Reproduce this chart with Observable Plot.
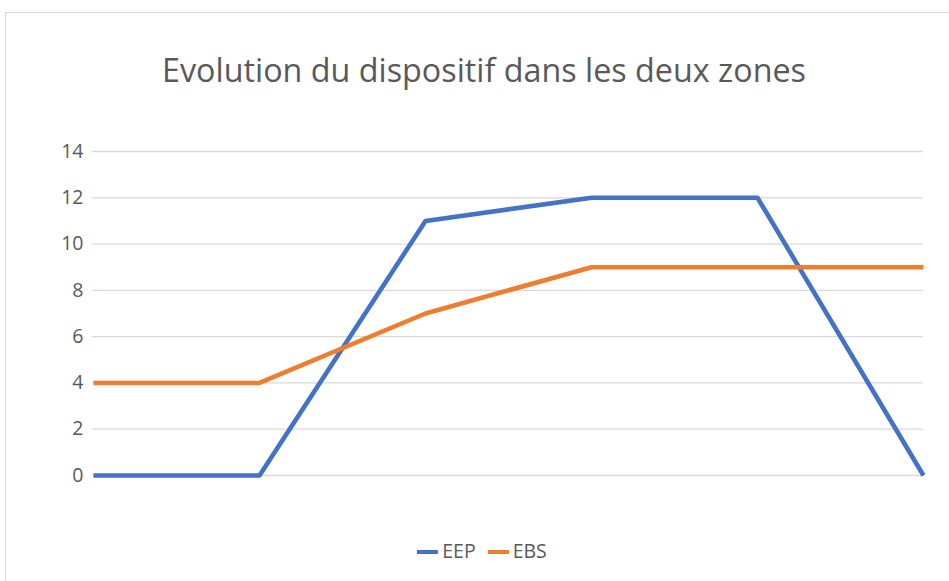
<!DOCTYPE html>
<html>
<head>
<meta charset="utf-8">
<script src="https://cdn.jsdelivr.net/npm/d3@7"></script>
<script src="https://cdn.jsdelivr.net/npm/@observablehq/plot@0.6"></script>
<style>
  html, body { margin: 0; padding: 0; background: #fff; }
  #wrap { position: relative; width: 949px; height: 581px; overflow: hidden; font-family: "Open Sans", sans-serif; }
  #frame { position: absolute; left: 5px; top: 12px; width: 1000px; height: 1000px; border: 1px solid #d9d9d9; box-sizing: border-box; }
  #title { position: absolute; left: 0; width: 968px; top: 46px; text-align: center; font-size: 32.3px; color: #595959; line-height: 46px; }
  #chart { position: absolute; left: 0; top: 0; }
  #legend { position: absolute; left: 0; width: 964px; top: 537px; text-align: center; font-size: 19.5px; color: #595959; line-height: 28px; }
  .item { display: inline-block; margin: 0 6px; }
  .sw { display: inline-block; width: 21px; height: 4.5px; vertical-align: middle; margin-right: 4px; position: relative; top: -1px; }
</style>
</head>
<body>
<div id="wrap">
  <div id="frame"></div>
  <div id="chart"></div>
  <div id="title">Evolution du dispositif dans les deux zones</div>
  <div id="legend"></div>
</div>
<script>
const categories = ["1", "2", "3", "4", "5", "6"];
const seriesNames = ["EEP", "EBS"];
const EEP = [0, 0, 11, 12, 12, 0];
const EBS = [4, 4, 7, 9, 9, 9];
const yTicks = [0, 2, 4, 6, 8, 10, 12, 14];
const colors = ["#4472C4", "#ED7D31"];

const seriesValues = [EEP, EBS];
const data = seriesNames.flatMap((s, i) =>
  categories.map((c, j) => ({ series: s, cat: c, value: seriesValues[i][j] }))
);

const plot = Plot.plot({
  width: 949,
  height: 581,
  marginLeft: 92,
  marginRight: 26,
  marginTop: 151,
  marginBottom: 106,
  style: { fontFamily: "Open Sans, sans-serif", fontSize: "19.5px", color: "#595959", background: "transparent", overflow: "visible" },
  x: { type: "point", domain: categories, padding: 0, axis: null },
  y: { domain: [0, 14], axis: null },
  color: { domain: seriesNames, range: colors },
  marks: [
    Plot.ruleY(yTicks, { stroke: "#d9d9d9", strokeWidth: 1.3 }),
    Plot.axisY(yTicks, { tickSize: 0, tickPadding: 9, fill: "#595959", fontSize: 19.5, textAnchor: "end", label: null }),
    Plot.line(data, { x: "cat", y: "value", z: "series", stroke: "series", strokeWidth: 4.6, strokeLinecap: "butt", strokeLinejoin: "round" })
  ]
});
document.getElementById("chart").appendChild(plot);

const legend = document.getElementById("legend");
seriesNames.forEach((s, i) => {
  const item = document.createElement("span");
  item.className = "item";
  const sw = document.createElement("span");
  sw.className = "sw";
  sw.style.background = colors[i];
  item.appendChild(sw);
  item.appendChild(document.createTextNode(s));
  legend.appendChild(item);
});
</script>
</body>
</html>
